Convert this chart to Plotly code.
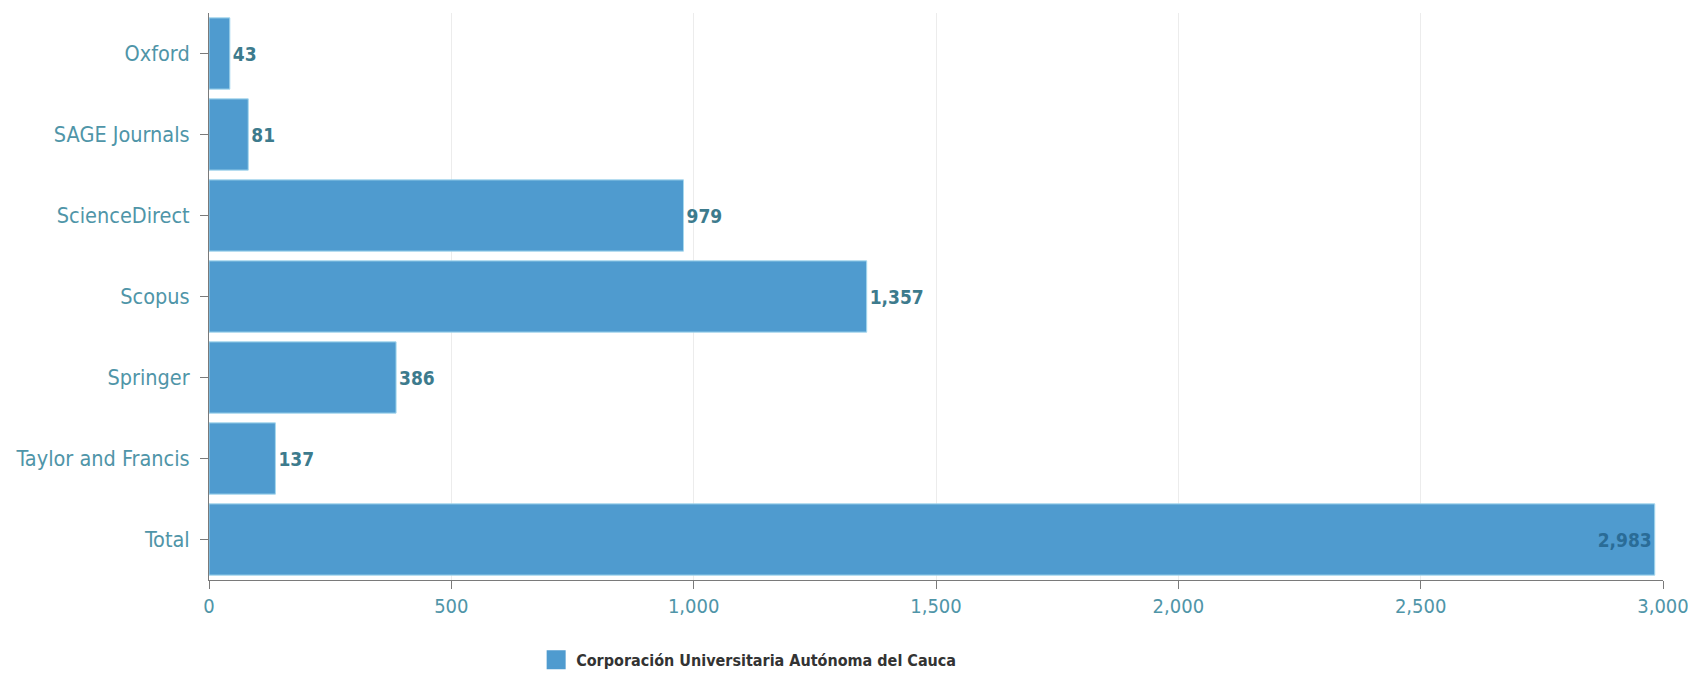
import plotly.graph_objects as go

categories = ["Oxford", "SAGE Journals", "ScienceDirect", "Scopus", "Springer", "Taylor and Francis", "Total"]
values = [43, 81, 979, 1357, 386, 137, 2983]
series_name = "Corporación Universitaria Autónoma del Cauca"
x_ticks = [0, 500, 1000, 1500, 2000, 2500, 3000]

FONT = "DejaVu Sans Condensed, DejaVu Sans"
BAR_COLOR = "#4f9bcf"

text_pos = ["inside" if c == "Total" else "outside" for c in categories]

fig = go.Figure()
fig.add_trace(go.Bar(
    y=categories,
    x=values,
    orientation="h",
    name=series_name,
    marker=dict(color=BAR_COLOR, line=dict(color="#a6d8ee", width=1)),
    text=[f"{v:,}" for v in values],
    textposition=text_pos,
    outsidetextfont=dict(family=FONT, size=19, color="#3d7b8d", weight="bold"),
    insidetextfont=dict(family=FONT, size=19, color="#2a6c97", weight="bold"),
    insidetextanchor="end",
    cliponaxis=False,
    showlegend=False,
))
# legend entry with a larger square swatch
fig.add_trace(go.Scatter(
    x=[None], y=[None], mode="markers", name=series_name,
    marker=dict(symbol="square", size=16, color=BAR_COLOR,
                line=dict(color=BAR_COLOR, width=3)),
    showlegend=True, hoverinfo="skip",
))

fig.update_layout(
    width=1688,
    height=668,
    margin=dict(l=201, r=33, t=5, b=96, autoexpand=False),
    paper_bgcolor="white",
    plot_bgcolor="white",
    bargap=0.12,
    font=dict(family=FONT, color="#4a93a6"),
    xaxis=dict(
        range=[0, 3000],
        tickvals=x_ticks,
        ticktext=[f"{t:,}" for t in x_ticks],
        tickfont=dict(family=FONT, size=20, color="#4f95a8"),
        showgrid=True,
        gridcolor="#ececec",
        zeroline=False,
        showline=True,
        linecolor="#7a7a7a",
        linewidth=1,
        ticks="outside",
        ticklen=8,
        tickcolor="#7a7a7a",
    ),
    yaxis=dict(
        autorange="reversed",
        tickfont=dict(family=FONT, size=21.5, color="#4f95a8"),
        showline=True,
        linecolor="#7a7a7a",
        linewidth=1,
        ticks="outside",
        ticklen=8,
        tickcolor="#7a7a7a",
        ticklabelstandoff=6,
        showgrid=False,
    ),
    legend=dict(
        orientation="h",
        x=0.225,
        xanchor="left",
        yref="container",
        y=0.024,
        yanchor="middle",
        font=dict(family=FONT, size=16, color="#333333", weight="bold"),
    ),
)

fig.write_html("out.html")
